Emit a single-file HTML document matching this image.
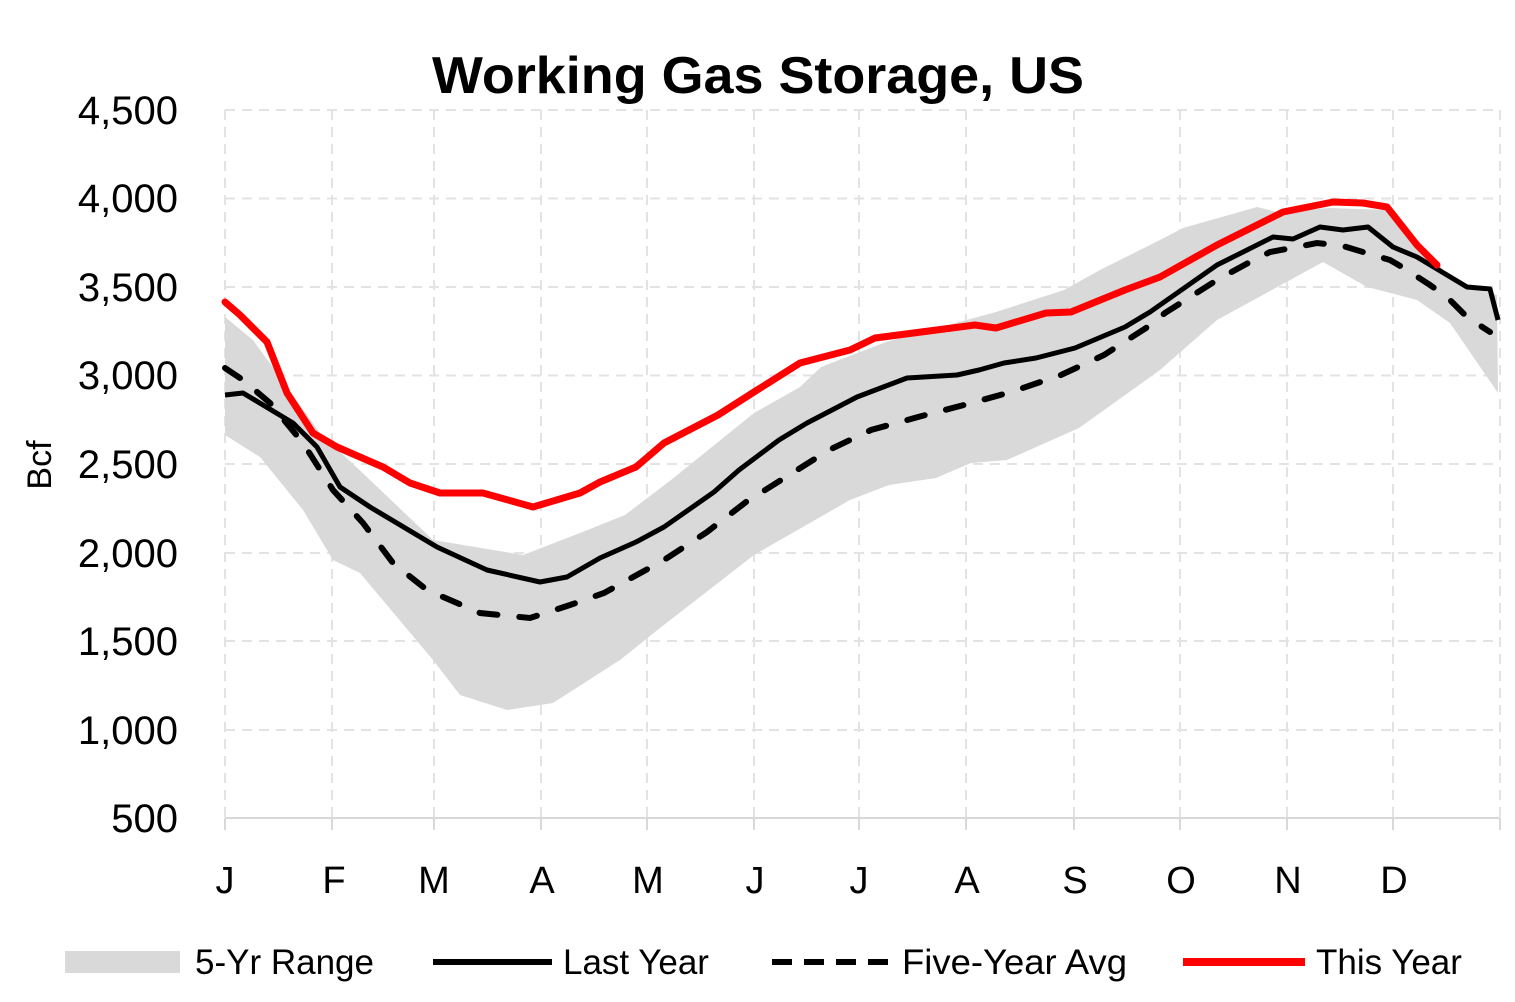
<!DOCTYPE html>
<html><head><meta charset="utf-8"><style>body{margin:0;background:#fff}svg{display:block}text{font-family:"Liberation Sans",sans-serif;fill:#000}</style></head><body>
<svg width="1515" height="1002" viewBox="0 0 1515 1002">
<text x="758" y="93" font-size="52" font-weight="bold" text-anchor="middle" textLength="652" lengthAdjust="spacingAndGlyphs">Working Gas Storage, US</text>
<g stroke="#e3e3e3" stroke-width="2" stroke-dasharray="10,7">
<line x1="225" y1="110" x2="1500" y2="110"/><line x1="225" y1="198.5" x2="1500" y2="198.5"/><line x1="225" y1="287" x2="1500" y2="287"/><line x1="225" y1="375.5" x2="1500" y2="375.5"/><line x1="225" y1="464" x2="1500" y2="464"/><line x1="225" y1="553" x2="1500" y2="553"/><line x1="225" y1="641" x2="1500" y2="641"/><line x1="225" y1="730" x2="1500" y2="730"/>
<line x1="225" y1="110" x2="225" y2="818"/><line x1="332" y1="110" x2="332" y2="818"/><line x1="434" y1="110" x2="434" y2="818"/><line x1="541" y1="110" x2="541" y2="818"/><line x1="647" y1="110" x2="647" y2="818"/><line x1="754" y1="110" x2="754" y2="818"/><line x1="859" y1="110" x2="859" y2="818"/><line x1="966" y1="110" x2="966" y2="818"/><line x1="1074" y1="110" x2="1074" y2="818"/><line x1="1180" y1="110" x2="1180" y2="818"/><line x1="1287" y1="110" x2="1287" y2="818"/><line x1="1393" y1="110" x2="1393" y2="818"/><line x1="1500" y1="110" x2="1500" y2="818"/>
</g>
<polygon fill="#d9d9d9" points="225,317 253,340 287,387 320,433 370,480 433,540 523,555 580,533 625,515 671,480 754,413 800,387 821,367 886,342 996,312 1064,290 1100,270 1160,240 1183,228 1257,207 1277,212 1330,208 1387,210 1417,240 1450,277 1480,290 1497,295 1498,393 1450,323 1417,300 1367,287 1323,262 1217,320 1160,370 1079,428 1007,460 971,463 936,478 889,485 850,500 754,555 660,628 620,660 553,703 507,710 460,695 433,660 360,573 333,560 303,510 260,457 225,435"/>
<line x1="225" y1="818" x2="1500" y2="818" stroke="#d9d9d9" stroke-width="2"/>
<g stroke="#d9d9d9" stroke-width="2"><line x1="225" y1="818" x2="225" y2="830"/><line x1="332" y1="818" x2="332" y2="830"/><line x1="434" y1="818" x2="434" y2="830"/><line x1="541" y1="818" x2="541" y2="830"/><line x1="647" y1="818" x2="647" y2="830"/><line x1="754" y1="818" x2="754" y2="830"/><line x1="859" y1="818" x2="859" y2="830"/><line x1="966" y1="818" x2="966" y2="830"/><line x1="1074" y1="818" x2="1074" y2="830"/><line x1="1180" y1="818" x2="1180" y2="830"/><line x1="1287" y1="818" x2="1287" y2="830"/><line x1="1393" y1="818" x2="1393" y2="830"/><line x1="1500" y1="818" x2="1500" y2="830"/></g>
<polyline fill="none" stroke="#000" stroke-width="6" stroke-linecap="round" stroke-dasharray="18,22" points="225,368 243,380 270,403 303,443 333,490 363,523 393,563 427,590 480,613 530,618 570,605 604,593 664,560 707,532 746,502 786,477 829,450 871,430 918,417 964,405 1011,392 1061,375 1104,355 1146,328 1165,313 1217,280 1250,262 1270,252 1297,247 1317,243 1343,246 1363,252 1390,260 1407,270 1430,285 1447,297 1467,317 1490,332"/>
<polyline fill="none" stroke="#000" stroke-width="5" stroke-linejoin="round" points="225,395 243,393 293,423 317,447 340,487 370,507 437,547 487,570 540,582 567,577 600,558 636,542 664,527 714,492 739,470 779,440 807,423 857,397 907,378 957,375 979,370 1004,363 1036,358 1075,348 1125,327 1150,312 1217,265 1273,237 1293,239 1320,227 1343,230 1368,227 1393,247 1417,257 1467,287 1490,289 1498,320"/>
<polyline fill="none" stroke="#f00" stroke-width="7" stroke-linejoin="round" stroke-linecap="round" points="225,302 240,315 267,342 287,393 313,433 337,447 383,467 410,483 440,493 483,493 533,507 580,493 600,482 636,467 664,443 718,415 754,392 800,363 850,350 875,338 975,325 996,328 1046,313 1071,312 1093,303 1125,290 1160,277 1217,245 1283,212 1333,202 1363,203 1387,207 1417,245 1437,265"/>
<g font-size="40" text-anchor="end"><text x="178" y="124">4,500</text><text x="178" y="212">4,000</text><text x="178" y="301">3,500</text><text x="178" y="389">3,000</text><text x="178" y="478">2,500</text><text x="178" y="567">2,000</text><text x="178" y="655">1,500</text><text x="178" y="744">1,000</text><text x="178" y="832">500</text></g>
<text transform="translate(51,465) rotate(-90)" font-size="34" text-anchor="middle">Bcf</text>
<g font-size="38" text-anchor="middle"><text x="225" y="893">J</text><text x="334" y="893">F</text><text x="434" y="893">M</text><text x="542" y="893">A</text><text x="648" y="893">M</text><text x="755" y="893">J</text><text x="859" y="893">J</text><text x="967" y="893">A</text><text x="1075" y="893">S</text><text x="1181" y="893">O</text><text x="1288" y="893">N</text><text x="1394" y="893">D</text></g>
<rect x="65" y="951" width="115" height="22" fill="#d9d9d9"/>
<line x1="433" y1="962" x2="552" y2="962" stroke="#000" stroke-width="6"/>
<line x1="772" y1="962" x2="890" y2="962" stroke="#000" stroke-width="6" stroke-dasharray="20,12"/>
<line x1="1183" y1="962" x2="1305" y2="962" stroke="#f00" stroke-width="8"/>
<g font-size="35"><text x="195" y="974">5-Yr Range</text><text x="563" y="974">Last Year</text><text x="902" y="974" textLength="225" lengthAdjust="spacingAndGlyphs">Five-Year Avg</text><text x="1316" y="974">This Year</text></g>
</svg>
</body></html>
